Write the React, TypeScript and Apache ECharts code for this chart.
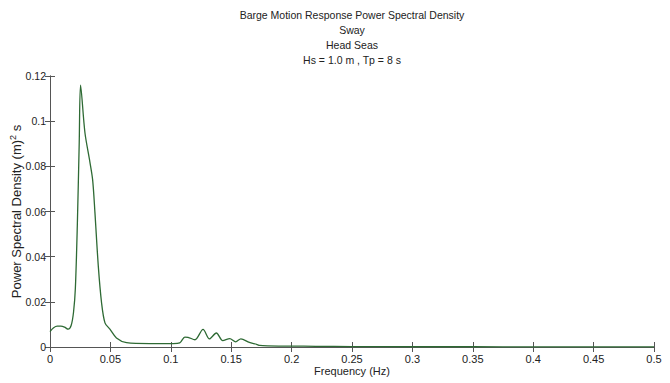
import React, { useEffect, useRef } from "react";
import * as echarts from "echarts";

const titleLines = [
  "Barge Motion Response Power Spectral Density",
  "Sway",
  "Head Seas",
  "Hs = 1.0 m , Tp = 8 s",
];

const frequency = [
  0, 0.003, 0.006, 0.009, 0.012, 0.015, 0.0175, 0.0195, 0.021, 0.0226, 0.0242, 0.0253,
  0.0289, 0.033, 0.0353, 0.0372, 0.04, 0.0427, 0.0455, 0.0496, 0.055, 0.0634, 0.0826,
  0.102, 0.1074, 0.1116, 0.1143, 0.12, 0.1267, 0.132, 0.1377, 0.143, 0.1488, 0.1537,
  0.158, 0.165, 0.171, 0.1736, 0.18, 0.2, 0.22, 0.25, 0.3, 0.35, 0.4, 0.45, 0.5,
];

const psd = [
  0.0068, 0.0085, 0.0092, 0.0092, 0.0088, 0.0079, 0.0095, 0.0155, 0.026, 0.0535, 0.0907,
  0.116, 0.095, 0.082, 0.074, 0.0595, 0.0357, 0.0195, 0.0107, 0.0079, 0.004, 0.0019,
  0.0015, 0.0015, 0.0018, 0.0044, 0.0043, 0.0032, 0.0078, 0.0036, 0.0062, 0.0028,
  0.0037, 0.0023, 0.0036, 0.002, 0.0012, 0.0007, 0.0005, 0.0004, 0.0003, 0.0002, 0.00012,
  0.0001, 0.00008, 0.00006, 0.00005,
];

const FONT = "'Liberation Sans Narrow', 'Liberation Sans', Arial, sans-serif";

export default function App() {
  const ref = useRef<HTMLDivElement>(null);
  useEffect(() => {
    if (!ref.current) return;
    const chart = echarts.init(ref.current, undefined, { renderer: "svg" });
    const axisLine = { show: true, lineStyle: { color: "#555", width: 1 } };
    const tick = { show: true, inside: true, length: 5, lineStyle: { color: "#555" } };
    chart.setOption({
      animation: false,
      backgroundColor: "#ffffff",
      title: titleLines.map((t, i) => ({
        text: t,
        left: 347,
        textAlign: "center",
        top: 4 + i * 15.3,
        textStyle: { fontFamily: FONT, fontSize: 10.5, fontWeight: "normal", color: "#222" },
      })),
      grid: { left: 50, right: 16, top: 76, bottom: 36, outerBoundsMode: "none", containLabel: false },
      xAxis: [
        {
          type: "value",
          min: 0,
          max: 0.5,
          interval: 0.05,
          axisLine,
          axisTick: tick,
          axisLabel: { fontFamily: FONT, fontSize: 11, color: "#222", margin: 6 },
          splitLine: { show: false },
          name: "Frequency (Hz)",
          nameLocation: "middle",
          nameGap: 18,
          nameMoveOverlap: false,
          nameTextStyle: { fontFamily: FONT, fontSize: 11, color: "#222" },
        },
        {
          type: "value",
          position: "top",
          min: 0,
          max: 0.5,
          interval: 0.05,
          axisLine,
          axisTick: tick,
          axisLabel: { show: false },
          splitLine: { show: false },
        },
      ],
      yAxis: [
        {
          type: "value",
          min: 0,
          max: 0.12,
          interval: 0.02,
          axisLine,
          axisTick: tick,
          axisLabel: { fontFamily: FONT, fontSize: 10.5, color: "#222", margin: 4 },
          splitLine: { show: false },
          name: "{a|Power Spectral Density (m)}{s|2}{a| s}",
          nameLocation: "middle",
          nameGap: 27,
          nameMoveOverlap: false,
          nameTextStyle: {
            rich: {
              a: { fontFamily: FONT, fontSize: 13, color: "#222", verticalAlign: "bottom", lineHeight: 15 },
              s: { fontFamily: FONT, fontSize: 9, color: "#222", verticalAlign: "top", lineHeight: 15 },
            },
          },
        },
        {
          type: "value",
          position: "right",
          min: 0,
          max: 0.12,
          interval: 0.02,
          axisLine,
          axisTick: tick,
          axisLabel: { show: false },
          splitLine: { show: false },
        },
      ],
      series: [
        {
          type: "line",
          data: frequency.map((f, i) => [f, psd[i]]),
          showSymbol: false,
          smooth: 0.3,
          lineStyle: { color: "#2e6a34", width: 1.3 },
        },
      ],
    });
    return () => chart.dispose();
  }, []);
  return (
    <div
      ref={ref}
      style={{ position: "fixed", left: 0, top: 0, width: 670, height: 383 }}
    />
  );
}
